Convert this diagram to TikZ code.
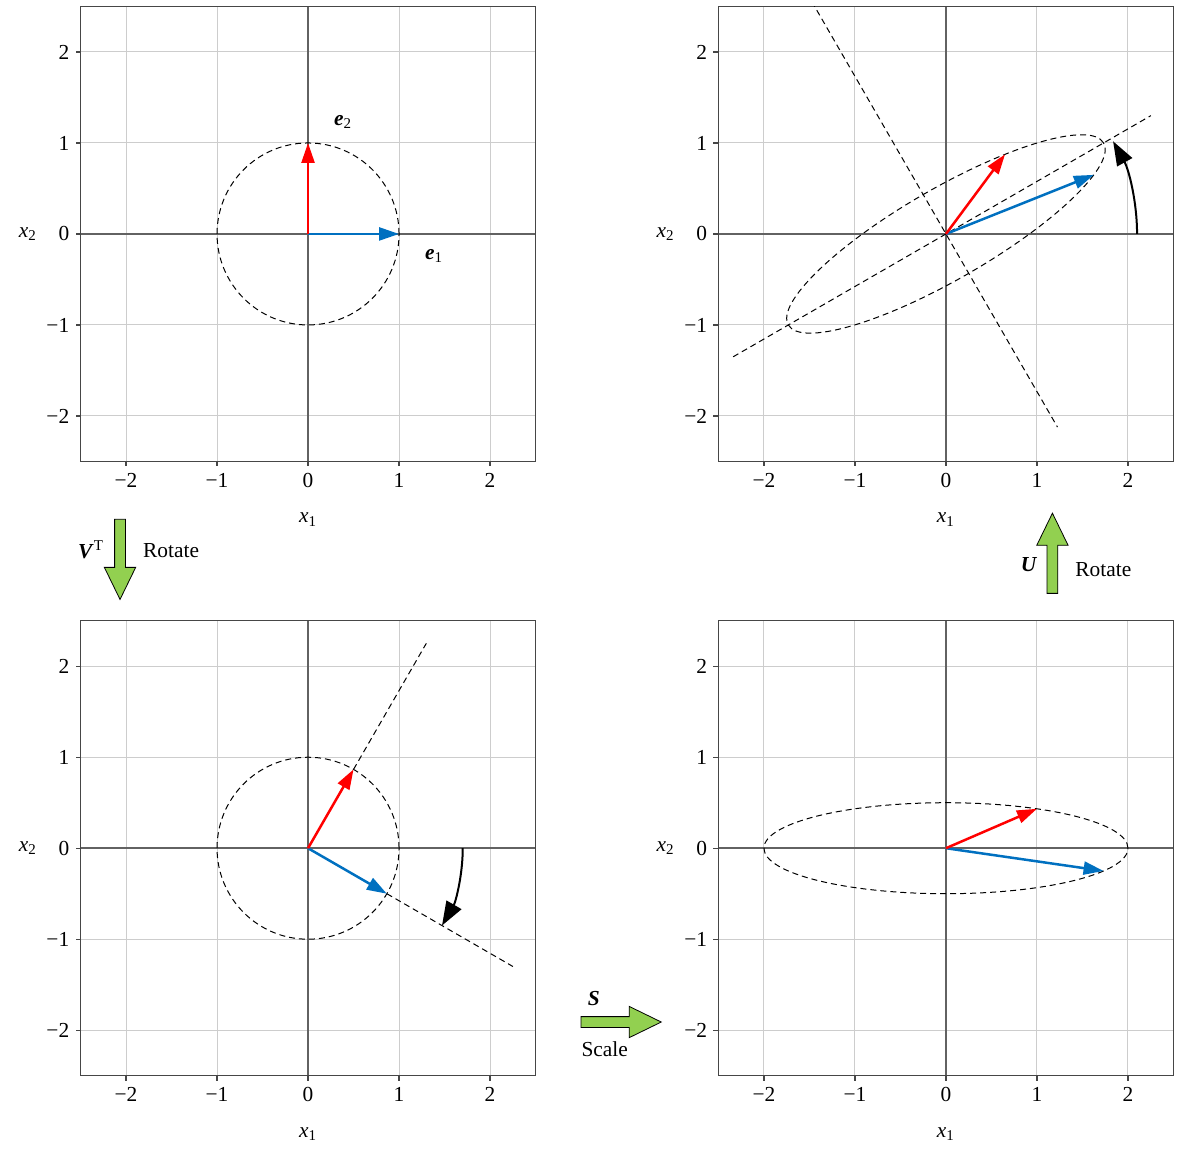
\documentclass[tikz,border=0pt]{standalone}
\usepackage{fontspec}
\setmainfont{Liberation Serif}
\usetikzlibrary{arrows.meta,shapes.arrows,positioning}
\definecolor{vecred}{RGB}{255,0,0}
\definecolor{vecblue}{RGB}{0,112,192}
\definecolor{blockgreen}{RGB}{146,208,80}
\definecolor{framegray}{RGB}{70,70,70}
\definecolor{gridgray}{RGB}{205,205,205}
\newcommand{\bfit}[1]{\textbf{\textit{#1}}}

\begin{document}
\begin{tikzpicture}[x=1.6cm, y=1.6cm, font=\fontsize{10.7}{12.8}\selectfont,
		panelframe/.style={draw=framegray, line width=0.7pt},
		gridline/.style={gridgray, line width=0.5pt},
		axisline/.style={framegray!85, line width=0.9pt},
		tickmark/.style={framegray, line width=0.6pt},
		ticklabel/.style={inner sep=0pt},
		guide/.style={dash pattern=on 3pt off 2pt, line width=0.5pt},
		redvec/.style={-{Triangle[length=10pt,width=6.5pt]}, vecred, line width=1.25pt},
		bluevec/.style={-{Triangle[length=10pt,width=6.5pt]}, vecblue, line width=1.25pt},
		swing/.style={-{Triangle[length=12pt,width=8.5pt]}, line width=1pt},
		blockarrow/.style={single arrow, draw=black, line width=0.4pt, fill=blockgreen,
			minimum height=1.41cm, minimum width=0.54cm, single arrow head extend=0.18cm,
			single arrow tip angle=52, inner sep=0.088cm}
	]
		\useasboundingbox (-3.385,-10.12) rectangle (9.648,2.571);

		% the four panels
		\foreach \p/\ox/\oy in {tl/0/0, tr/7.01/0, bl/0/-6.75, br/7.01/-6.75} {
			\begin{scope}[shift={(\ox,\oy)}]
				\foreach \g in {-2,...,2} {
					\draw[gridline] (\g,-2.5) -- (\g,2.5);
					\draw[gridline] (-2.5,\g) -- (2.5,\g);
				}
				\draw[axisline] (-2.5,0) -- (2.5,0);
				\draw[axisline] (0,-2.5) -- (0,2.5);
				\draw[panelframe] (-2.5,-2.5) rectangle (2.5,2.5);
				\foreach \g/\t in {-2/−2,-1/−1,0/0,1/1,2/2} {
					\draw[tickmark] (\g,-2.5) -- (\g,-2.555);
					\draw[tickmark] (-2.5,\g) -- (-2.555,\g);
					\node[ticklabel] (\p-xt\g) at (\g,-2.71) {\t};
					\node[ticklabel, anchor=east] (\p-yt\g) at (-2.62,\g) {\t};
				}
				\node (\p-xlab) at (0,-3.14) {\textit{x}\textsubscript{1}};
				\node (\p-ylab) at (-3.08,0) {\textit{x}\textsubscript{2}};
			\end{scope}
		}

		% top left: unit vectors
		\coordinate (tl-o) at (0,0);
		\coordinate (tl-e1) at (1,0);
		\coordinate (tl-e2) at (0,1);
		\draw[guide] (tl-o) circle[radius=1];
		\draw[bluevec] (tl-o) -- (tl-e1);
		\draw[redvec] (tl-o) -- (tl-e2);
		\node (tl-l1) at (1.385,-0.24) {\bfit{e}\textsubscript{1}};
		\node (tl-l2) at (0.385,1.23) {\bfit{e}\textsubscript{2}};

		% top right: after U
		\begin{scope}[shift={(7.01,0)}]
			\clip (-2.5,-2.5) rectangle (2.5,2.5);
			\coordinate (tr-o) at (0,0);
			\coordinate (tr-m1) at (210:2.7);
			\coordinate (tr-m2) at (30:2.6);
			\coordinate (tr-n1) at (120:2.95);
			\coordinate (tr-n2) at (300:2.45);
			\coordinate (tr-u1) at (1.625,0.6495);
			\coordinate (tr-u2) at (0.6495,0.875);
			\coordinate (tr-a0) at (2.1,0);
			\draw[guide, rotate=30] (tr-o) ellipse[x radius=2, y radius=0.5];
			\draw[guide] (tr-m1) -- (tr-m2);
			\draw[guide] (tr-n1) -- (tr-n2);
			\draw[bluevec] (tr-o) -- (tr-u1);
			\draw[redvec] (tr-o) -- (tr-u2);
			\draw[swing] (tr-a0) arc[start angle=0, end angle=29, radius=2.1];
		\end{scope}

		% bottom left: after V^T
		\begin{scope}[shift={(0,-6.75)}]
			\coordinate (bl-o) at (0,0);
			\coordinate (bl-v2) at (60:1);
			\coordinate (bl-v1) at (-30:1);
			\coordinate (bl-f2) at (60:2.6);
			\coordinate (bl-f1) at (-30:2.6);
			\coordinate (bl-a0) at (1.7,0);
			\draw[guide] (bl-o) circle[radius=1];
			\draw[guide] (bl-v2) -- (bl-f2);
			\draw[guide] (bl-v1) -- (bl-f1);
			\draw[bluevec] (bl-o) -- (bl-v1);
			\draw[redvec] (bl-o) -- (bl-v2);
			\draw[swing] (bl-a0) arc[start angle=0, end angle=-30, radius=1.7];
		\end{scope}

		% bottom right: after S
		\begin{scope}[shift={(7.01,-6.75)}]
			\coordinate (br-o) at (0,0);
			\coordinate (br-s1) at (1.732,-0.25);
			\coordinate (br-s2) at (1,0.433);
			\draw[guide] (br-o) ellipse[x radius=2, y radius=0.5];
			\draw[bluevec] (br-o) -- (br-s1);
			\draw[redvec] (br-o) -- (br-s2);
		\end{scope}

		% steps between panels
		\node[blockarrow, shape border rotate=270] (vt) at (-2.066,-3.515) {};
		\node (vt-sym) at (-2.385,-3.47) {\bfit{V}\textsuperscript{T}};
		\node (vt-txt) at (-1.505,-3.48) {Rotate};
		\node[blockarrow, shape border rotate=90] (u) at (8.18,-3.57) {};
		\node (u-sym) at (7.923,-3.63) {\bfit{U}};
		\node (u-txt) at (8.74,-3.69) {Rotate};
		\node[blockarrow] (s) at (3.38,-8.66) {};
		\node (s-sym) at (3.14,-8.40) {\bfit{S}};
		\node (s-txt) at (3.26,-8.96) {Scale};
	\end{tikzpicture}
\end{document}
